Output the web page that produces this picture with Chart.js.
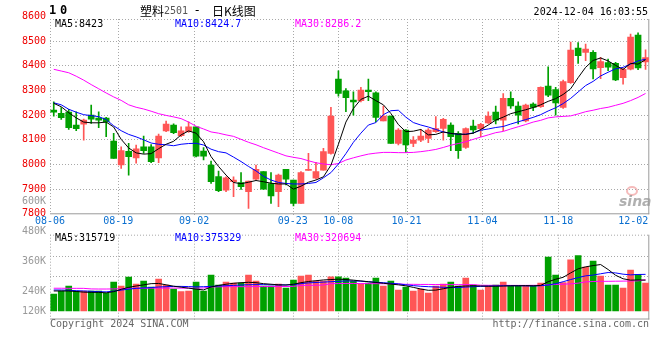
<!DOCTYPE html>
<html><head><meta charset="utf-8">
<script src="https://cdn.jsdelivr.net/npm/chart.js@4.4.1/dist/chart.umd.min.js"></script>
<style>
html,body{margin:0;padding:0;background:#fff;}
#wrap{position:relative;width:660px;height:360px;background:#fff;}
canvas{position:absolute;left:0;top:0;}
</style></head><body>
<div id="wrap"><canvas id="price" width="660" height="360"></canvas><canvas id="vol" width="660" height="360"></canvas></div>
<script>
// ---------- data ----------
const dates = ['08-06','08-07','08-08','08-09','08-12','08-13','08-14','08-15','08-16','08-19','08-20','08-21','08-22','08-23','08-26','08-27','08-28','08-29','08-30',
'09-02','09-03','09-04','09-05','09-06','09-09','09-10','09-11','09-12','09-13','09-18','09-19','09-20','09-23','09-24','09-25','09-26','09-27','09-30',
'10-08','10-09','10-10','10-11','10-14','10-15','10-16','10-17','10-18','10-21','10-22','10-23','10-24','10-25','10-28','10-29','10-30','10-31',
'11-01','11-04','11-05','11-06','11-07','11-08','11-11','11-12','11-13','11-14','11-15','11-18','11-19','11-20','11-21','11-22','11-25','11-26','11-27','11-28','11-29',
'12-02','12-03','12-04'];
const openP  = [8219,8205,8211,8158,8161,8198,8186,8186,8093,7996,8051,8025,8070,8070,8025,8134,8158,8115,8131,8151,8052,7996,7949,7894,7928,7925,7888,7938,7969,7921,7888,7978,7935,7840,7974,7942,7975,8043,8344,8297,8259,8257,8300,8289,8175,8194,8083,8138,8083,8097,8104,8131,8144,8158,8124,8067,8154,8143,8167,8211,8178,8266,8235,8175,8243,8232,8316,8302,8229,8330,8470,8452,8453,8391,8411,8408,8350,8385,8523,8414];
const highP  = [8252,8229,8222,8212,8182,8239,8212,8189,8124,8070,8084,8077,8113,8079,8121,8174,8163,8151,8171,8151,8067,8012,7971,7948,7948,7965,7931,7996,7969,7965,7959,7978,7935,7969,8043,8007,8063,8230,8378,8306,8293,8311,8344,8293,8235,8194,8144,8140,8111,8140,8144,8192,8185,8167,8131,8147,8178,8165,8212,8235,8286,8293,8252,8243,8248,8313,8394,8311,8340,8494,8492,8486,8460,8433,8425,8412,8388,8527,8532,8463];
const lowP   = [8194,8181,8140,8135,8097,8165,8147,8111,8023,7982,7955,8003,8043,8005,8005,8131,8123,8111,8128,8029,8016,7921,7888,7888,7867,7897,7820,7935,7897,7840,7827,7915,7830,7840,7974,7939,7975,8040,8275,8212,8198,8252,8257,8171,8175,8083,8077,8047,8070,8090,8086,8128,8097,8054,8023,8063,8124,8111,8165,8162,8135,8225,8162,8171,8216,8229,8273,8198,8225,8327,8408,8419,8345,8346,8378,8338,8324,8381,8382,8384];
const closeP = [8210,8188,8147,8143,8178,8182,8178,8171,8023,8054,8030,8061,8054,8009,8113,8162,8127,8134,8151,8032,8032,7928,7892,7944,7935,7908,7931,7978,7898,7870,7955,7938,7840,7965,7978,7969,8050,8194,8286,8269,8252,8300,8293,8189,8194,8083,8138,8077,8097,8113,8138,8144,8181,8111,8054,8144,8138,8161,8194,8178,8266,8235,8198,8239,8229,8311,8279,8248,8334,8462,8439,8466,8386,8415,8393,8341,8384,8515,8390,8432];
const ma5  = [8246,8232,8208,8187,8170,8167,8167,8170,8150,8100,8065,8045,8040,8042,8062,8080,8092,8118,8134,8125,8090,8030,7990,7955,7925,7920,7926,7933,7928,7922,7919,7919,7898,7910,7926,7935,7948,7995,8080,8170,8225,8262,8275,8257,8240,8205,8160,8131,8133,8140,8118,8120,8130,8124,8121,8120,8125,8140,8158,8178,8190,8204,8212,8220,8229,8240,8254,8265,8282,8305,8350,8392,8420,8430,8418,8400,8383,8408,8405,8423];
const ma10 = [8248,8240,8222,8210,8200,8196,8192,8180,8155,8135,8120,8110,8098,8085,8080,8078,8074,8080,8083,8084,8077,8060,8050,8045,8028,8010,7990,7972,7950,7935,7925,7921,7919,7919,7921,7925,7944,7965,8000,8042,8088,8125,8158,8168,8200,8216,8218,8190,8168,8158,8150,8140,8130,8124,8120,8121,8126,8137,8142,8148,8152,8162,8171,8180,8189,8200,8215,8228,8245,8266,8292,8318,8335,8357,8372,8386,8392,8405,8418,8425];
const ma30 = [8384,8377,8370,8356,8340,8322,8305,8288,8272,8258,8240,8230,8223,8214,8204,8197,8191,8184,8170,8153,8142,8130,8125,8118,8112,8100,8088,8078,8066,8055,8044,8033,8027,8022,8013,8005,8000,7997,8002,8016,8025,8033,8040,8044,8047,8047,8046,8046,8047,8050,8054,8059,8067,8076,8083,8090,8100,8109,8118,8127,8132,8142,8151,8160,8170,8177,8187,8191,8193,8195,8203,8212,8218,8225,8230,8238,8246,8257,8270,8286];
const volume = [174000,205000,256000,205000,205000,205000,205000,181000,297000,256000,348000,276000,307000,246000,328000,266000,225000,198000,205000,297000,205000,369000,266000,297000,287000,287000,369000,307000,256000,256000,276000,235000,317000,358000,369000,307000,307000,351000,351000,338000,307000,276000,287000,338000,256000,307000,215000,246000,205000,225000,184000,256000,276000,297000,256000,338000,266000,215000,256000,266000,297000,256000,256000,256000,256000,287000,553000,369000,292000,525000,567000,451000,512000,358000,266000,266000,235000,420000,375000,287000];
const volMa5  = [205000,205000,205000,200000,193000,191000,191000,186000,198000,222000,242000,256000,268000,280000,282000,268000,254000,244000,234000,224000,216000,246000,262000,274000,284000,290000,294000,290000,280000,274000,268000,266000,274000,290000,302000,310000,318000,322000,326000,322000,316000,308000,300000,292000,284000,276000,268000,258000,242000,225000,212000,214000,228000,242000,252000,256000,258000,256000,254000,254000,256000,258000,258000,260000,258000,262000,300000,325000,345000,390000,432000,452000,465000,476000,425000,366000,330000,316000,318000,315719];
const volMa10 = [215000,215000,212000,208000,205000,202000,198000,196000,203000,214000,224000,232000,236000,240000,246000,249000,252000,252000,250000,247000,249000,252000,256000,259000,262000,266000,269000,270000,270000,268000,267000,267000,270000,280000,288000,292000,296000,300000,304000,307000,308000,305000,300000,294000,290000,284000,278000,268000,260000,253000,249000,246000,243000,240000,240000,245000,249000,252000,255000,256000,258000,259000,259000,257000,256000,259000,266000,280000,300000,322000,342000,360000,368000,381000,394000,390000,377000,370000,374000,375329];
const volMa30 = [233000,233000,232000,232000,232000,226000,225000,225000,226000,228000,232000,233000,233000,234000,234000,235000,235000,234000,234000,234000,236000,246000,248000,249000,249000,249000,249000,250000,250000,250000,250000,251000,252000,262000,263000,264000,266000,280000,281000,282000,282000,281000,280000,280000,279000,278000,277000,273000,273000,272000,272000,271000,271000,270000,270000,270000,270000,264000,263000,263000,263000,262000,262000,262000,263000,263000,268000,272000,275000,278000,285000,298000,302000,304000,304000,305000,306000,307000,309000,320694];

const dateTicks = ['08-06','08-19','09-02','09-23','10-08','10-21','11-04','11-18','12-02'];
const gridDates = ['08-19','09-02','09-23','10-08','10-21','11-04','11-18'];
const priceTicks = [8600,8500,8400,8300,8200,8100,8000,7900,7800];
const priceGrid = [8500,8400,8300,8200,8100,8000,7900];
const volTickVals = [600000,480000,360000,240000,120000];
const volTickLabels = ['600K','480K','360K','240K','120K'];
const priceLegend = ['MA5:8423','MA10:8424.7','MA30:8286.2'];
const volLegend = ['MA5:315719','MA10:375329','MA30:320694'];
const maColors = ['#000000','#0000ff','#ff00ff'];
const titleParts = ['塑料','2501','-','日K线图'];
const stamp = '2024-12-04 16:03:55';

// ---------- styling ----------
const RED = '#ff5656', GREEN = '#00a000';
const MONO = '10px "DejaVu Sans Mono", monospace';
const isUp = i => closeP[i] >= openP[i];
const barColors = dates.map((d,i)=> isUp(i) ? RED : GREEN);

function seg(ctx,x1,y1,x2,y2){ctx.beginPath();ctx.moveTo(x1,y1);ctx.lineTo(x2,y2);ctx.stroke();}

const pricePanel = {
  id:'pricePanel',
  beforeDatasetsDraw(chart){
    const {ctx, chartArea:a, scales} = chart; const y = scales.y, xg = scales.xg;
    ctx.save();
    // watermark
    ctx.strokeStyle='rgba(235,120,120,0.5)'; ctx.lineWidth=2;
    ctx.beginPath(); ctx.ellipse(632,191,5,4,0,0,Math.PI*2); ctx.stroke();
    ctx.font='italic bold 14px "DejaVu Sans", sans-serif'; ctx.fillStyle='rgba(150,150,150,0.75)';
    ctx.textAlign='left'; ctx.textBaseline='alphabetic'; ctx.fillText('sina',619,206);
    ctx.lineWidth=1; ctx.strokeStyle='#a8a8a8'; ctx.setLineDash([1,2]);
    priceGrid.forEach(v=>{const py=Math.round(y.getPixelForValue(v))+0.5; seg(ctx,a.left,py,a.right,py);});
    gridDates.forEach(d=>{const px=Math.round(xg.getPixelForValue(dates.indexOf(d)))+0.5; seg(ctx,px,a.top,px,a.bottom+2);});
    seg(ctx,a.left+0.5,a.top,a.left+0.5,a.bottom);
    seg(ctx,a.left,a.top+0.5,a.right,a.top+0.5);
    ctx.setLineDash([]); ctx.strokeStyle='#9a9a9a';
    seg(ctx,a.right-0.5,a.top,a.right-0.5,a.bottom+1);
    seg(ctx,a.left,a.bottom+0.5,a.right,a.bottom+0.5);
    ctx.restore();
  },
  afterDraw(chart){
    const {ctx, chartArea:a, scales} = chart; const y = scales.y, xg = scales.xg;
    ctx.save();
    ctx.font = MONO; ctx.textBaseline='middle';
    // price tick labels
    ctx.fillStyle='#ee0000'; ctx.textAlign='right';
    priceTicks.forEach(v=>ctx.fillText(String(v),46,y.getPixelForValue(v)+0.5));
    // date labels
    ctx.fillStyle='#0a6fd0'; ctx.textAlign='center';
    dateTicks.forEach(d=>{let px=xg.getPixelForValue(dates.indexOf(d)); const w=ctx.measureText(d).width; if(px+w/2>a.right-1) px=a.right-1-w/2; ctx.fillText(d,px,221);});
    // legend
    ctx.textAlign='left';
    [55,175,295].forEach((lx,k)=>{ctx.fillStyle=maColors[k]; ctx.fillText(priceLegend[k],lx,24.5);});
    // header
    ctx.fillStyle='#000'; ctx.font='bold 12px "DejaVu Sans Mono", monospace';
    ctx.fillText('1',49,11); ctx.fillText('0',60,11);
    ctx.font='12px "Noto Sans CJK SC", sans-serif'; ctx.fillText(titleParts[0],140,11);
    ctx.font=MONO; ctx.fillStyle='#555'; ctx.fillText(titleParts[1],164,11.5);
    ctx.fillStyle='#000'; ctx.font='12px "DejaVu Sans", sans-serif'; ctx.fillText(titleParts[2],195,11);
    ctx.font='12px "Noto Sans CJK SC", sans-serif'; ctx.fillText(titleParts[3],212,11);
    ctx.font=MONO; ctx.textAlign='right'; ctx.fillText(stamp,648,12);
    ctx.restore();
  }
};

const volPanel = {
  id:'volPanel',
  beforeDatasetsDraw(chart){
    const {ctx, chartArea:a, scales} = chart; const xg = scales.xg;
    ctx.save();
    ctx.lineWidth=1; ctx.strokeStyle='#a8a8a8'; ctx.setLineDash([1,2]);
    [0.25,0.49].forEach(f=>{const py=Math.round(a.top+(a.bottom-a.top)*f)+0.5; seg(ctx,a.left,py,a.right,py);});
    gridDates.forEach(d=>{const px=Math.round(xg.getPixelForValue(dates.indexOf(d)))+0.5; seg(ctx,px,a.top,px,a.bottom+2);});
    seg(ctx,a.left+0.5,a.top,a.left+0.5,a.bottom);
    seg(ctx,a.left,a.top+0.5,a.right,a.top+0.5);
    ctx.setLineDash([]); ctx.strokeStyle='#9a9a9a';
    seg(ctx,a.right-0.5,a.top,a.right-0.5,a.bottom+1);
    seg(ctx,a.left,a.bottom+0.5,a.right,a.bottom+0.5);
    ctx.restore();
  },
  afterDraw(chart){
    const {ctx, chartArea:a, scales} = chart; const yl = scales.yLab;
    ctx.save();
    ctx.font=MONO; ctx.textBaseline='middle';
    ctx.fillStyle='#999999'; ctx.textAlign='right';
    volTickVals.forEach((v,k)=>{const py=Math.min(yl.getPixelForValue(v), a.bottom-8); ctx.fillText(volTickLabels[k],46,py+0.5);});
    ctx.textAlign='left';
    [55,175,295].forEach((lx,k)=>{ctx.fillStyle=maColors[k]; ctx.fillText(volLegend[k],lx,238.5);});
    ctx.fillStyle='#666'; ctx.fillText('Copyright 2024 SINA.COM',50,324);
    ctx.textAlign='right'; ctx.fillText('http://finance.sina.com.cn',649,324);
    ctx.restore();
  }
};

const lineDs = (data,color,order)=>({type:'line',data,borderColor:color,borderWidth:1,pointRadius:0,tension:0,order,xAxisID:'x',yAxisID:'y'});

new Chart(document.getElementById('price'),{
  type:'bar',
  data:{labels:dates,datasets:[
    lineDs(ma5,maColors[0],0), lineDs(ma10,maColors[1],1), lineDs(ma30,maColors[2],2),
    {type:'bar',data:dates.map((d,i)=>[openP[i],closeP[i]]),backgroundColor:barColors,barThickness:6,minBarLength:1,grouped:false,order:5,xAxisID:'x',yAxisID:'y'},
    {type:'bar',data:dates.map((d,i)=>[lowP[i],highP[i]]),backgroundColor:barColors,barThickness:1,grouped:false,order:6,xAxisID:'x',yAxisID:'y'}
  ]},
  options:{responsive:false,animation:false,devicePixelRatio:1,events:[],
    layout:{padding:{left:50,right:10.7,top:19,bottom:146.7}},
    plugins:{legend:{display:false},tooltip:{enabled:false}},
    scales:{
      x:{type:'category',display:false,offset:true},
      xg:{type:'category',display:false,offset:false,labels:dates},
      y:{type:'linear',display:false,min:7800,max:8588}
    }},
  plugins:[pricePanel]
});

new Chart(document.getElementById('vol'),{
  type:'bar',
  data:{labels:dates,datasets:[
    lineDs(volMa5,maColors[0],0), lineDs(volMa10,maColors[1],1), lineDs(volMa30,maColors[2],2),
    {type:'bar',data:volume,backgroundColor:barColors,barThickness:6,grouped:false,order:5,xAxisID:'x',yAxisID:'y'}
  ]},
  options:{responsive:false,animation:false,devicePixelRatio:1,events:[],
    layout:{padding:{left:50,right:10.7,top:234.7,bottom:41.5}},
    plugins:{legend:{display:false},tooltip:{enabled:false}},
    scales:{
      x:{type:'category',display:false,offset:true},
      xg:{type:'category',display:false,offset:false,labels:dates},
      y:{type:'linear',display:false,min:-76800,max:781312},
      yLab:{type:'linear',display:false,min:128000,max:463200}
    }},
  plugins:[volPanel]
});
</script>
</body></html>
